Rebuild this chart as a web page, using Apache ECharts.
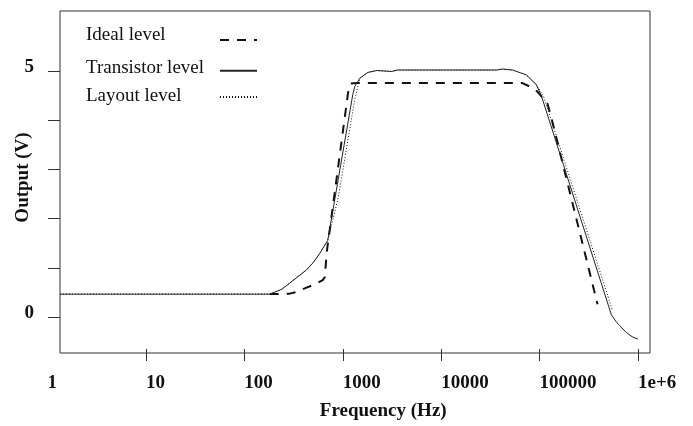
<!DOCTYPE html>
<html><head><meta charset="utf-8">
<script src="https://cdn.jsdelivr.net/npm/echarts@6/dist/echarts.min.js"></script>
<style>html,body{margin:0;padding:0;background:#fff}#c{width:693px;height:426px}</style>
</head><body><div id="c"></div>
<script>
// Tick labels
const freqTickLabels = ['1', '10', '100', '1000', '10000', '100000', '1e+6'];
const voltTickLabels = ['0', '5'];
const seriesNames = ['Ideal level', 'Transistor level', 'Layout level'];

// [frequency (Hz), output (V)]
const idealLevel = [
  [181, 0.39], [290, 0.40], [330, 0.43], [410, 0.51], [545, 0.61], [626, 0.68],
  [657, 0.74], [688, 1.26], [1132, 4.55], [1206, 4.74], [1400, 4.75],
  [67000, 4.75], [85000, 4.65], [95500, 4.57], [120000, 4.33], [129000, 4.11],
  [388000, 0.18]
];
const transistorLevel = [
  [1.34, 0.39], [181, 0.39], [240, 0.49], [290, 0.62], [350, 0.75], [428, 0.89], [500, 1.04],
  [583, 1.23], [704, 1.50],
  [1264, 4.51], [1325, 4.68], [1489, 4.85], [1795, 4.97], [2213, 5.01],
  [3140, 4.99], [3600, 5.02], [36600, 5.02], [42000, 5.04], [53200, 5.02],
  [73300, 4.92], [92600, 4.72], [105000, 4.47], [535000, -0.03],
  [600000, -0.18], [649000, -0.26], [759000, -0.40], [870000, -0.49], [1000000, -0.54]
];
const layoutLevel = [
  [1.34, 0.39], [181, 0.39], [240, 0.49], [290, 0.62], [350, 0.75], [428, 0.89], [500, 1.04],
  [583, 1.23], [704, 1.50],
  [899, 2.38], [1324, 4.41], [1489, 4.85], [1795, 4.97], [2213, 5.01],
  [3140, 4.99], [3600, 5.02], [36600, 5.02], [42000, 5.04], [53200, 5.02],
  [73300, 4.92], [92600, 4.72], [110000, 4.47], [545000, 0.08]
];

const FONT = 'Liberation Serif';
const INK = '#222';
const labelFont = {fontFamily: FONT, fontSize: 19, fontWeight: 'bold', color: '#111'};
const legendPad = [10, 5, 1];

const chart = echarts.init(document.getElementById('c'), null, {renderer: 'canvas'});
chart.setOption({
  animation: false,
  backgroundColor: '#fff',
  grid: [
    {left: 47.5, right: 55, top: 71, height: 246},
    {left: 60, right: 43, top: 11, bottom: 73, show: true, borderColor: '#333', borderWidth: 1, backgroundColor: 'transparent'},
    {left: 60, right: 43, top: 71, height: 246}
  ],
  legend: {
    orient: 'vertical', left: 86, top: 25.5, padding: 0, itemGap: 4.2, align: 'right',
    itemWidth: 37, itemHeight: 14,
    itemStyle: {opacity: 0},
    data: seriesNames.map((n, i) => ({name: n, textStyle: {padding: [0, 0, legendPad[i], 0]}})),
    formatter: '{a|{name}}',
    textStyle: {
      fontFamily: FONT, fontSize: 19, color: '#111', lineHeight: 19,
      rich: {a: {width: 129, align: 'left', fontFamily: FONT, fontSize: 19, color: '#111'}}
    }
  },
  xAxis: [
    {gridIndex: 0, type: 'log', logBase: 10, min: 1, max: 1000000, show: false},
    {
      gridIndex: 0, type: 'category', data: freqTickLabels, boundaryGap: false,
      position: 'bottom', offset: 36,
      axisLine: {show: false},
      axisTick: {show: true, length: 12, interval: (i) => i > 0, lineStyle: {color: '#333', width: 1}},
      axisLabel: Object.assign({interval: 0, align: 'left', margin: 25}, labelFont),
      splitLine: {show: false},
      name: 'Frequency (Hz)', nameLocation: 'middle', nameGap: 53,
      nameTextStyle: Object.assign({padding: [0, 0, 0, 81]}, labelFont)
    },
    {gridIndex: 1, type: 'value', min: 0, max: 1, show: false},
    {gridIndex: 2, type: 'value', min: 0, max: 1, show: false}
  ],
  yAxis: [
    {gridIndex: 0, type: 'value', min: 0, max: 5, show: false},
    {
      gridIndex: 1, type: 'value', min: -0.73, max: 6.22,
      axisLine: {show: false}, axisTick: {show: false}, axisLabel: {show: false}, splitLine: {show: false},
      name: 'Output (V)', nameLocation: 'middle', nameGap: 27,
      nameTextStyle: Object.assign({padding: [0, 0, 0, 9]}, labelFont)
    },
    {
      gridIndex: 2, type: 'value', min: 0, max: 5, interval: 1,
      axisLine: {show: false},
      axisTick: {show: true, length: 12, lineStyle: {color: '#333', width: 1}},
      axisLabel: Object.assign({
        margin: 26, verticalAlign: 'bottom', lineHeight: 7,
        formatter: (v) => voltTickLabels.indexOf(String(v)) >= 0 ? String(v) : ''
      }, labelFont),
      splitLine: {show: false}
    }
  ],
  series: [
    {
      name: seriesNames[0], type: 'line', xAxisIndex: 0, yAxisIndex: 0, data: idealLevel,
      symbol: 'none', clip: false, z: 3,
      lineStyle: {color: '#111', width: 2, type: [9, 8]}
    },
    {
      name: seriesNames[2], type: 'line', xAxisIndex: 0, yAxisIndex: 0, data: layoutLevel,
      symbol: 'none', clip: false, z: 4,
      lineStyle: {color: '#111', width: 1, type: [1, 2]}
    },
    {
      name: seriesNames[1], type: 'line', xAxisIndex: 0, yAxisIndex: 0, data: transistorLevel,
      symbol: 'none', clip: false, z: 5,
      lineStyle: {color: INK, width: 1}
    }
  ]
});
</script>
</body></html>
